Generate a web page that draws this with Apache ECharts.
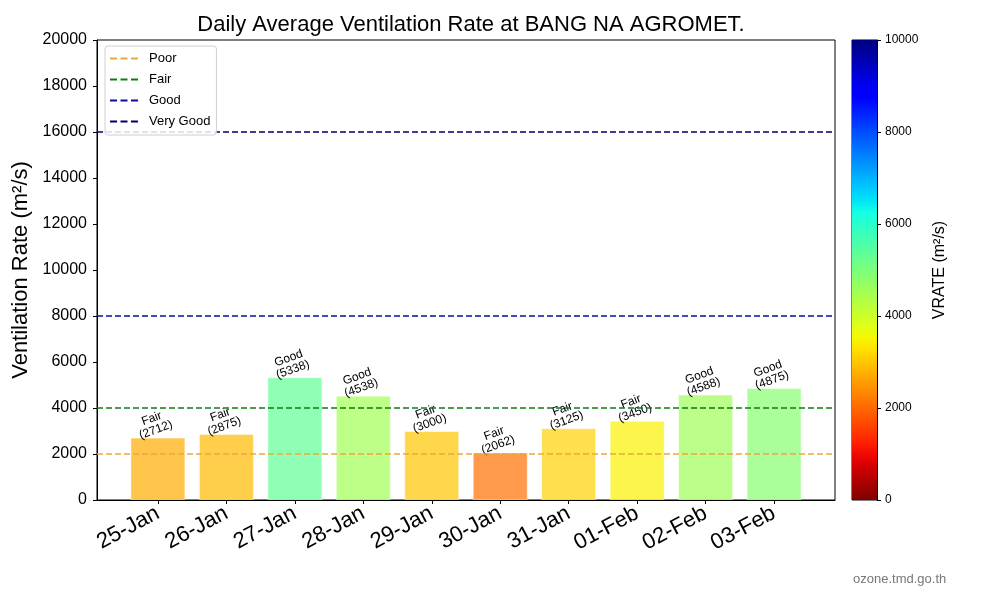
<!DOCTYPE html>
<html>
<head>
<meta charset="utf-8">
<script src="https://cdn.jsdelivr.net/npm/echarts@6/dist/echarts.min.js"></script>
<style>
  html, body { margin: 0; padding: 0; background: #fff; }
  #chart { width: 1000px; height: 600px; }
</style>
</head>
<body>
<div id="chart"></div>
<script>
const days = ['25-Jan', '26-Jan', '27-Jan', '28-Jan', '29-Jan', '30-Jan', '31-Jan', '01-Feb', '02-Feb', '03-Feb']
const vrate = [2712, 2875, 5338, 4538, 3000, 2062, 3125, 3450, 4588, 4875]
const quality = ['Fair', 'Fair', 'Good', 'Good', 'Fair', 'Fair', 'Fair', 'Fair', 'Good', 'Good']
const levelNames = ['Poor', 'Fair', 'Good', 'Very Good']
const levelValues = [2000, 4000, 8000, 16000]
const levelColors = ['#eaa93a', '#127a12', '#0c0ca0', '#000070']
const colorbarTicks = [0, 2000, 4000, 6000, 8000, 10000]

// matplotlib jet
function jet(t) {
  function seg(pts) {
    for (let i = 1; i < pts.length; i++) {
      if (t <= pts[i][0]) {
        const a = pts[i - 1], b = pts[i]
        return a[1] + (b[1] - a[1]) * (t - a[0]) / (b[0] - a[0])
      }
    }
    return pts[pts.length - 1][1]
  }
  const r = seg([[0, 0], [0.35, 0], [0.66, 1], [0.89, 1], [1, 0.5]])
  const g = seg([[0, 0], [0.125, 0], [0.375, 1], [0.64, 1], [0.91, 0], [1, 0]])
  const b = seg([[0, 0.5], [0.11, 1], [0.34, 1], [0.65, 0], [1, 0]])
  return [r, g, b].map(v => Math.round(v * 255))
}

const steps = 40
const barColors = []
const gradStops = []
for (let i = 0; i <= steps; i++) {
  const c = jet(1 - i / steps)
  barColors.push('rgba(' + c.join(',') + ',0.7)')
  const c2 = jet(i / steps)
  gradStops.push({ offset: i / steps, color: 'rgb(' + c2.join(',') + ')' })
}

const xMin = -0.89
const xMax = 9.89
const font = 'Liberation Sans, Arial, sans-serif'
const dashIcon = 'path://M0,0H7V2H0Z M10.5,0H17.5V2H10.5Z M21,0H28V2H21Z'

const lineSeries = levelNames.map((name, i) => ({
  name: name,
  type: 'line',
  xAxisIndex: 0,
  yAxisIndex: 0,
  symbol: 'none',
  silent: true,
  lineStyle: { color: levelColors[i], width: 1.6, type: [6, 3] },
  itemStyle: { color: levelColors[i] },
  data: [[xMin, levelValues[i]], [xMax, levelValues[i]]],
  z: 3
}))

const chart = echarts.init(document.getElementById('chart'))
chart.setOption({
  backgroundColor: '#fff',
  animation: false,
  textStyle: { fontFamily: font },
  title: [{
    text: 'Daily Average Ventilation Rate at BANG NA AGROMET.',
    left: 466,
    top: 9,
    textAlign: 'center',
    textStyle: { fontSize: 22, fontWeight: 'normal', color: '#000', fontFamily: font }
  }, {
    text: 'ozone.tmd.go.th',
    left: 848,
    top: 568,
    textStyle: { fontSize: 13, fontWeight: 'normal', color: '#777', fontFamily: font }
  }],
  legend: {
    orient: 'vertical',
    left: 105,
    top: 46,
    data: levelNames.map(n => ({ name: n, icon: dashIcon })),
    itemWidth: 28,
    itemHeight: 2,
    itemGap: 8,
    padding: [6, 6, 7, 5],
    backgroundColor: 'rgba(255,255,255,0.85)',
    borderColor: '#d0d0d0',
    borderWidth: 1,
    borderRadius: 3,
    textStyle: { fontSize: 13, color: '#000', fontFamily: font, padding: [0, 0, 0, 6] }
  },
  visualMap: {
    show: false,
    seriesIndex: 0,
    dimension: 1,
    min: 0,
    max: 10000,
    inRange: { color: barColors }
  },
  grid: [{
    left: 97, right: 165, top: 40, bottom: 100,
    show: true, borderColor: '#000', borderWidth: 1
  }, {
    left: 852, width: 25, top: 40, bottom: 100,
    show: true, borderColor: '#000', borderWidth: 1
  }],
  xAxis: [{
    type: 'value',
    gridIndex: 0,
    min: xMin,
    max: xMax,
    splitLine: { show: false },
    axisLine: { show: true, onZero: false, lineStyle: { color: '#000' } },
    axisTick: { show: true, length: 4, customValues: days.map((d, i) => i), lineStyle: { color: '#000' } },
    axisLabel: {
      customValues: days.map((d, i) => i),
      formatter: v => days[Math.round(v)],
      rotate: 28,
      margin: 12,
      fontSize: 22,
      color: '#000',
      fontFamily: font
    }
  }, {
    type: 'category',
    gridIndex: 1,
    data: ['c'],
    show: false
  }],
  yAxis: [{
    type: 'value',
    gridIndex: 0,
    min: 0,
    max: 20000,
    interval: 2000,
    name: 'Ventilation Rate (m²/s)',
    nameLocation: 'middle',
    nameGap: 57,
    nameTextStyle: { fontSize: 22, color: '#000', fontFamily: font },
    splitLine: { show: false },
    axisLine: { show: true, onZero: false, lineStyle: { color: '#000' } },
    axisTick: { show: true, length: 4, lineStyle: { color: '#000' } },
    axisLabel: { fontSize: 16, color: '#000', margin: 10, fontFamily: font, formatter: v => String(v) }
  }, {
    type: 'value',
    gridIndex: 1,
    position: 'right',
    min: 0,
    max: 10000,
    interval: 2000,
    name: 'VRATE (m²/s)',
    nameLocation: 'middle',
    nameRotate: 90,
    nameGap: 55,
    nameTextStyle: { fontSize: 16, color: '#000', fontFamily: font },
    splitLine: { show: false },
    axisLine: { show: true, onZero: false, lineStyle: { color: '#000' } },
    axisTick: { show: true, length: 4, lineStyle: { color: '#000' } },
    axisLabel: { fontSize: 12, color: '#000', margin: 8, fontFamily: font, formatter: v => String(v) }
  }],
  series: [{
    name: 'VRATE',
    type: 'bar',
    xAxisIndex: 0,
    yAxisIndex: 0,
    barWidth: 55,
    itemStyle: { borderColor: 'rgba(255,255,255,0.5)', borderWidth: 1 },
    label: {
      show: true,
      position: 'top',
      distance: 2,
      rotate: 20,
      fontSize: 12,
      lineHeight: 12,
      color: '#000',
      fontFamily: font,
      formatter: p => quality[p.dataIndex] + '\n(' + vrate[p.dataIndex] + ')'
    },
    data: vrate.map((v, i) => [i, v]),
    z: 2
  }].concat(lineSeries, [{
    name: 'colorbar',
    type: 'bar',
    xAxisIndex: 1,
    yAxisIndex: 1,
    barWidth: '100%',
    silent: true,
    itemStyle: {
      color: { type: 'linear', x: 0, y: 0, x2: 0, y2: 1, colorStops: gradStops }
    },
    data: [colorbarTicks[colorbarTicks.length - 1]]
  }])
})
</script>
</body>
</html>
